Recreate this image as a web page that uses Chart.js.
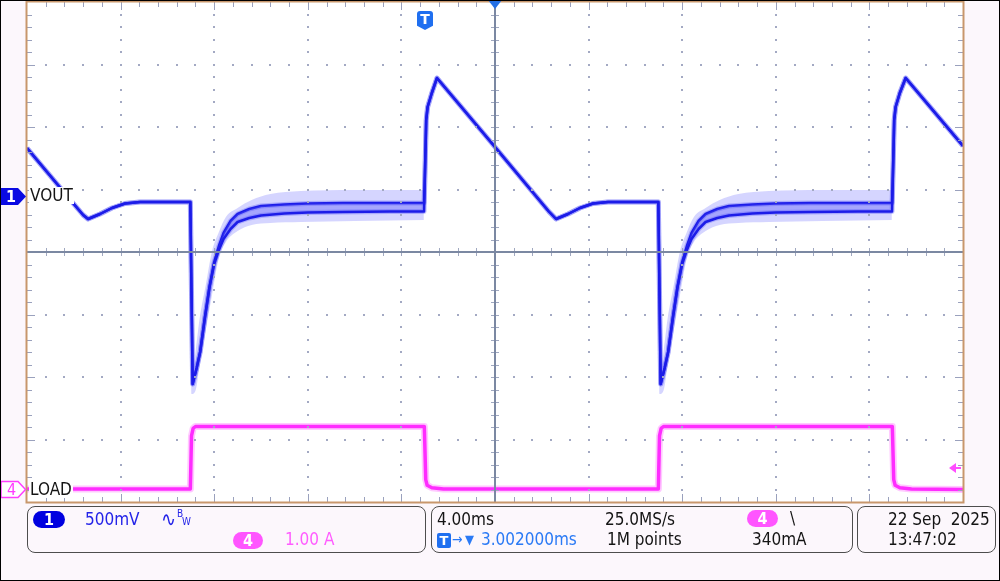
<!DOCTYPE html>
<html><head><meta charset="utf-8">
<script src="https://cdn.jsdelivr.net/npm/chart.js@4"></script>
<style>
html,body{margin:0;padding:0;}
body{width:1000px;height:581px;background:#fcf7fc;position:relative;overflow:hidden;font-family:'DejaVu Sans Condensed','DejaVu Sans',sans-serif;}
#frame{position:absolute;left:0;top:0;width:998px;height:579px;border:1px solid #000;pointer-events:none;}
canvas{position:absolute;left:0;top:0;}
.t{position:absolute;font-size:17px;line-height:17px;white-space:pre;color:#141414;}
.panel{position:absolute;top:506px;height:47px;border:1.5px solid #4d4d4d;border-radius:8px;box-sizing:border-box;}
.pill{position:absolute;color:#fff;text-align:center;border-radius:9px;font-size:16px;line-height:17px;font-weight:bold;}
.lab{position:absolute;font-size:17px;line-height:17px;background:#fff;color:#141414;padding:0 1px;}
</style></head>
<body>
<canvas id="c" width="1000" height="581"></canvas>

<!-- channel markers -->
<svg style="position:absolute;left:0;top:0" width="30" height="581">
  <polygon points="0,188 18,188 26,196.5 18,205 0,205" fill="#0a0ae3"/>
  <polygon points="1,481.5 18,481.5 25.5,489.5 18,497.5 1,497.5" fill="#fff" stroke="#ff3cff" stroke-width="1.5"/>
</svg>
<div class="t" style="left:6px;top:188px;color:#fff;font-size:16px;font-weight:bold">1</div>
<div class="t" style="left:7px;top:481px;color:#ff3cff;font-size:16px">4</div>
<div class="lab" style="left:29px;top:187px">VOUT</div>
<div class="lab" style="left:29px;top:481px">LOAD</div>

<!-- trigger time marker -->
<div id="tmark" style="position:absolute;left:417px;top:11px;width:16px;height:19px;background:#1f6ff0;clip-path:polygon(0 0,100% 0,100% 78%,50% 100%,0 78%);border-radius:3px;color:#fff;font:bold 14px/17px 'DejaVu Sans',sans-serif;text-align:center">T</div>

<!-- status panels -->
<div class="panel" style="left:27px;width:399px"></div>
<div class="panel" style="left:431px;width:422px"></div>
<div class="panel" style="left:857px;width:139px"></div>

<div class="pill" style="left:33px;top:511px;width:32px;height:17px;background:#0000e0">1</div>
<div class="t" style="left:85px;top:511px;color:#2323e8">500mV</div>
<div class="t" style="left:161px;top:509px;color:#2323e8;font-size:20px;line-height:20px">∿</div>
<div class="t" style="left:177px;top:509px;color:#2323e8;font-size:10px;line-height:10px">B</div>
<div class="t" style="left:182px;top:517px;color:#2323e8;font-size:10px;line-height:10px">W</div>
<div class="pill" style="left:233px;top:532px;width:30px;height:17px;background:#ff55ff">4</div>
<div class="t" style="left:285px;top:531px;color:#ff5cff">1.00 A</div>

<div class="t" style="left:437px;top:511px">4.00ms</div>
<div class="t" style="left:605px;top:511px">25.0MS/s</div>
<div style="position:absolute;left:437px;top:533px;width:14px;height:15px;background:#1f6ff0;border-radius:2px;color:#fff;font:bold 13px/15px 'DejaVu Sans',sans-serif;text-align:center">T</div>
<div class="t" style="left:452px;top:531px;color:#2a7af5;font-size:14px">→</div>
<div class="t" style="left:465px;top:531px;color:#2a7af5;font-size:13px">▼</div>
<div class="t" style="left:481px;top:531px;color:#2a7af5">3.002000ms</div>
<div class="t" style="left:607px;top:531px">1M points</div>
<div class="pill" style="left:747px;top:510px;width:31px;height:17px;background:#ff55ff">4</div>
<div class="t" style="left:790px;top:510px">\</div>
<div class="t" style="left:752px;top:531px">340mA</div>

<div class="t" style="left:888px;top:511px">22 Sep  2025</div>
<div class="t" style="left:888px;top:531px">13:47:02</div>

<div id="frame"></div>

<script>
// ---- axis ranges (time in ms relative to trigger, VOUT in V relative to ch1 marker, LOAD in A) ----
const TIME_RANGE_MS = [-17, 23];        // 10 div x 4.00 ms
const VOUT_RANGE_V = [-2.448, 1.552];   // 8 div x 500 mV
const LOAD_RANGE_A = [-0.208, 7.792];   // 8 div x 1.00 A
const TRIG_LEVEL_A = 0.34;

// ---- VOUT (two dark persistence traces) ----
const VOUT_T = [-17, -16, -15, -14.6, -14.39, -13.88, -13.37, -12.81, -12.17, -10.02,
  -9.92, -9.75, -9.6, -9.4, -9.2, -9.0, -8.8, -8.6, -8.3, -8.0, -7.5, -7.0, -6.0, -5.0, -3.5, -1.5, -0.03,
  0.02, 0.06, 0.12, 0.3, 0.52, 3.0, 5.3, 5.61, 6.12, 6.63, 7.19, 7.83, 9.98,
  10.08, 10.25, 10.4, 10.6, 10.8, 11.0, 11.2, 11.4, 11.7, 12.0, 12.5, 13.0, 14.0, 15.0, 16.5, 18.5, 19.97,
  20.02, 20.06, 20.12, 20.3, 20.55, 23.0];
const VOUT_HI = [0.384, 0.160, -0.064, -0.152, -0.184, -0.144, -0.096, -0.060, -0.048, -0.048,
  -1.504, -1.376, -1.248, -0.976, -0.728, -0.528, -0.400, -0.296, -0.200, -0.144, -0.104, -0.080, -0.068, -0.060, -0.056, -0.056, -0.056,
  0.288, 0.608, 0.712, 0.824, 0.944, 0.392, -0.124, -0.184, -0.144, -0.096, -0.060, -0.048, -0.048,
  -1.504, -1.376, -1.248, -0.976, -0.728, -0.528, -0.400, -0.296, -0.200, -0.144, -0.104, -0.080, -0.068, -0.060, -0.056, -0.056, -0.056,
  0.288, 0.608, 0.712, 0.824, 0.944, 0.400];
const VOUT_LO = [0.384, 0.160, -0.064, -0.152, -0.184, -0.144, -0.096, -0.060, -0.048, -0.048,
  -1.504, -1.376, -1.248, -0.976, -0.728, -0.544, -0.432, -0.344, -0.264, -0.208, -0.176, -0.156, -0.140, -0.132, -0.128, -0.124, -0.124,
  0.288, 0.608, 0.712, 0.824, 0.944, 0.392, -0.124, -0.184, -0.144, -0.096, -0.060, -0.048, -0.048,
  -1.504, -1.376, -1.248, -0.976, -0.728, -0.544, -0.432, -0.344, -0.264, -0.208, -0.176, -0.156, -0.140, -0.132, -0.128, -0.124, -0.124,
  0.288, 0.608, 0.712, 0.824, 0.944, 0.400];

// ---- VOUT persistence envelope during load steps ----
const BAND_T = [-10.0, -9.96, -9.79, -9.62, -9.36, -9.1, -8.8, -8.5, -8.0, -7.4, -6.6, -5.3, -3.0, -0.04, 5.0,
  10.0, 10.04, 10.21, 10.38, 10.64, 10.9, 11.2, 11.5, 12.0, 12.6, 13.4, 14.7, 17.0, 19.96];
const BAND_TOP = [-0.048, -1.472, -1.232, -0.976, -0.712, -0.448, -0.288, -0.168, -0.096, -0.032, 0.016, 0.040, 0.048, 0.048, null,
  -0.048, -1.472, -1.232, -0.976, -0.712, -0.448, -0.288, -0.168, -0.096, -0.032, 0.016, 0.040, 0.048, 0.048];
const BAND_BOT = [-0.048, -1.584, -1.552, -1.352, -1.072, -0.800, -0.496, -0.368, -0.280, -0.232, -0.216, -0.208, -0.200, -0.192, null,
  -0.048, -1.584, -1.552, -1.352, -1.072, -0.800, -0.496, -0.368, -0.280, -0.232, -0.216, -0.208, -0.200, -0.192];

// ---- LOAD current ----
const LOAD_T = [-17, -10.02, -9.97, -9.9, -9.8, -0.02, 0.04, 0.1, 0.3, 0.8, 9.98, 10.03, 10.1, 10.2, 19.98, 20.04, 20.1, 20.3, 20.8, 23];
const LOAD_A = [0, 0, 0.85, 0.97, 1.0, 1.0, 0.15, 0.06, 0.02, 0, 0, 0.85, 0.97, 1.0, 1.0, 0.15, 0.06, 0.02, 0, -0.01];

const pts = (ts, vs) => ts.map((t, i) => ({x: t, y: vs[i]}));

const scopePlugin = {
  id: 'scope',
  beforeDraw(chart) {
    const {ctx, chartArea: a} = chart;
    ctx.save();
    ctx.fillStyle = '#ffffff';
    ctx.fillRect(a.left, a.top, a.right - a.left, a.bottom - a.top);
    ctx.restore();
  },
  afterDatasetsDraw(chart) {
    const {ctx, chartArea: a} = chart;
    const L = a.left, T = a.top, R = a.right, B = a.bottom;
    const dx = (R - L) / 10, dy = (B - T) / 8, mx = dx / 5, my = dy / 5;
    ctx.save();
    // dotted graticule
    ctx.fillStyle = '#a3a9c3';
    const dot = (x, y) => ctx.fillRect(Math.round(x) - 1, Math.round(y) - 1, 2, 2);
    for (let i = 1; i < 10; i++) { if (i === 5) continue; const x = L + i * dx; for (let k = 1; k < 40; k++) dot(x, T + k * my); }
    for (let j = 1; j < 8; j++) { if (j === 4) continue; const y = T + j * dy; for (let k = 1; k < 50; k++) dot(L + k * mx, y); }
    // edge ticks
    ctx.fillStyle = '#9aa1bd';
    for (let k = 1; k < 40; k++) {
      const y = Math.round(T + k * my); const len = (k % 5 === 0) ? 8 : 5;
      ctx.fillRect(L, y, len, 1); ctx.fillRect(R - len, y, len, 1);
    }
    for (let k = 1; k < 50; k++) {
      const x = Math.round(L + k * mx); const len = (k % 5 === 0) ? 8 : 5;
      ctx.fillRect(x, T, 1, len); ctx.fillRect(x, B - len, 1, len);
    }
    // center crosshair
    const cx = Math.round(L + 5 * dx), cy = Math.round(T + 4 * dy);
    ctx.fillStyle = '#a0a8c0';
    for (let k = 1; k < 50; k++) { const x = Math.round(L + k * mx); ctx.fillRect(x, cy - 4, 1, 8); }
    for (let k = 1; k < 40; k++) { const y = Math.round(T + k * my); ctx.fillRect(cx - 4, y, 8, 1); }
    ctx.fillStyle = '#7b88a2';
    ctx.fillRect(L, cy - 1, R - L, 2);
    ctx.fillRect(cx - 1, T, 2, B - T);
    // border
    ctx.strokeStyle = '#c8976c';
    ctx.lineWidth = 2;
    ctx.strokeRect(L - 0.5, T - 0.5, R - L + 1, B - T + 1);
    // trigger position marker
    ctx.fillStyle = '#2370e6';
    ctx.beginPath(); ctx.moveTo(cx - 7, 0); ctx.lineTo(cx + 7, 0); ctx.lineTo(cx, 9); ctx.closePath(); ctx.fill();
    // trigger level marker (ch4)
    const ty = Math.round(chart.scales.yA.getPixelForValue(TRIG_LEVEL_A));
    ctx.fillStyle = '#ff4dff';
    ctx.beginPath(); ctx.moveTo(949, ty); ctx.lineTo(956, ty - 5); ctx.lineTo(956, ty + 5); ctx.closePath(); ctx.fill();
    ctx.fillRect(955, ty - 1, 6, 2);
    ctx.restore();
  }
};

const mono = {cubicInterpolationMode: 'monotone'};
const chart = new Chart(document.getElementById('c'), {
  type: 'line',
  data: {
    datasets: [
      {label: 'band top', data: pts(BAND_T, BAND_TOP), yAxisID: 'yV', borderColor: 'transparent', borderWidth: 0, fill: false, order: 10, ...mono},
      {label: 'band bottom', data: pts(BAND_T, BAND_BOT), yAxisID: 'yV', borderColor: 'transparent', borderWidth: 0, fill: '-1', backgroundColor: 'rgba(100,100,255,0.27)', order: 9, ...mono},
      {label: 'VOUT hi halo', data: pts(VOUT_T, VOUT_HI), yAxisID: 'yV', borderColor: 'rgba(70,70,245,0.30)', borderWidth: 5, fill: false, order: 6},
      {label: 'VOUT lo halo', data: pts(VOUT_T, VOUT_LO), yAxisID: 'yV', borderColor: 'rgba(70,70,245,0.30)', borderWidth: 5, fill: false, order: 5},
      {label: 'VOUT hi', data: pts(VOUT_T, VOUT_HI), yAxisID: 'yV', borderColor: '#1c1ce8', borderWidth: 2.5, fill: false, order: 2},
      {label: 'VOUT lo', data: pts(VOUT_T, VOUT_LO), yAxisID: 'yV', borderColor: '#1c1ce8', borderWidth: 2.5, fill: '-1', backgroundColor: 'rgba(80,80,250,0.35)', order: 1},
      {label: 'LOAD halo', data: pts(LOAD_T, LOAD_A), yAxisID: 'yA', borderColor: 'rgba(255,100,255,0.35)', borderWidth: 7, fill: false, order: 4},
      {label: 'LOAD', data: pts(LOAD_T, LOAD_A), yAxisID: 'yA', borderColor: '#ff2cff', borderWidth: 3.5, fill: false, order: 3}
    ]
  },
  options: {
    responsive: false, animation: false, devicePixelRatio: 1,
    layout: {padding: {left: 27, top: 2, right: 37, bottom: 79}},
    elements: {line: {tension: 0, borderJoinStyle: 'round'}, point: {radius: 0}},
    plugins: {legend: {display: false}, tooltip: {enabled: false}},
    scales: {
      x: {type: 'linear', min: TIME_RANGE_MS[0], max: TIME_RANGE_MS[1], display: false},
      yV: {type: 'linear', min: VOUT_RANGE_V[0], max: VOUT_RANGE_V[1], display: false},
      yA: {type: 'linear', min: LOAD_RANGE_A[0], max: LOAD_RANGE_A[1], display: false}
    }
  },
  plugins: [scopePlugin]
});
document.getElementById('tmark').style.left = (Math.round(chart.scales.x.getPixelForValue(0)) - 8) + 'px';
</script>
</body></html>
